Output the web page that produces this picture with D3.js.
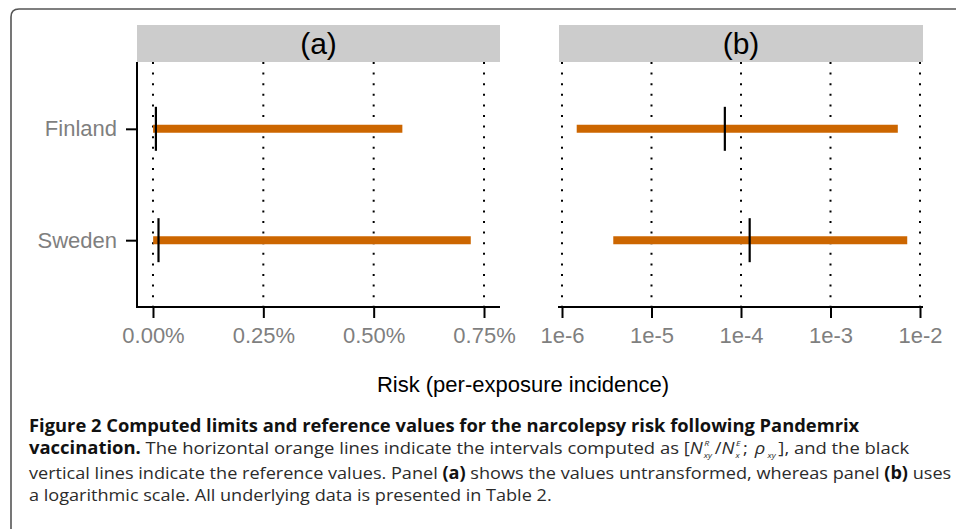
<!DOCTYPE html>
<html>
<head>
<meta charset="utf-8">
<script src="https://cdn.jsdelivr.net/npm/d3@7"></script>
<style>
  html, body { margin: 0; padding: 0; background: #fff; }
  svg { display: block; }
</style>
</head>
<body>
<svg id="chart" width="956" height="529"></svg>
<script>
// Narcolepsy risk intervals and reference values per country
const categories = ["Finland", "Sweden"];
const lowerLimits = [1.46e-6, 3.74e-6];
const upperLimits = [5.65e-3, 7.2e-3];
const referenceValues = [6.6e-5, 1.25e-4];

const panelTitles = ["(a)", "(b)"];
const linearTicks = [0, 0.0025, 0.005, 0.0075];
const linearTickLabels = ["0.00%", "0.25%", "0.50%", "0.75%"];
const logTicks = [1e-6, 1e-5, 1e-4, 1e-3, 1e-2];
const logTickLabels = ["1e-6", "1e-5", "1e-4", "1e-3", "1e-2"];
const axisTitle = "Risk (per-exposure incidence)";

const rows = categories.map((c, i) => ({
  country: c, lo: lowerLimits[i], hi: upperLimits[i], ref: referenceValues[i]
}));

const PLOT_FONT = "'Liberation Sans', Arial, Helvetica, sans-serif";
const CAP_FONT = "'Open Sans', 'Noto Sans', sans-serif";
const ORANGE = "#cc6600";
const GREY_TEXT = "#7f7f7f";

const svg = d3.select("#chart");

// Rounded figure frame (top and left edges)
svg.append("path")
  .attr("d", "M11,529 L11,17 Q11,9 19,9 L956,9")
  .attr("fill", "none")
  .attr("stroke", "#555")
  .attr("stroke-width", 1.6);

const plotTop = 62, plotBottom = 307;
const y = d3.scalePoint().domain(categories).range([plotTop, plotBottom]).padding(0.6);

// Linear limits [0, 0.75%] and log limits [1e-6, 1e-2], each with a small expansion
const linLim = [0, 0.0075], linExp = 0.0483 * (linLim[1] - linLim[0]);
const logLim = [-6, -2], logExp = 0.0335;

const panels = [
  {
    title: panelTitles[0], x0: 137, x1: 500,
    scale: d3.scaleLinear().domain([linLim[0] - linExp, linLim[1] + linExp]).range([137, 500]),
    ticks: linearTicks, labels: linearTickLabels, yAxis: true
  },
  {
    title: panelTitles[1], x0: 559, x1: 923,
    scale: d3.scaleLog().domain([Math.pow(10, logLim[0] - logExp), Math.pow(10, logLim[1] + logExp)]).range([559, 923]),
    ticks: logTicks, labels: logTickLabels, yAxis: false
  }
];

panels.forEach(p => {
  const g = svg.append("g");
  const x = p.scale;

  // facet strip
  g.append("rect")
    .attr("x", p.x0).attr("y", 25)
    .attr("width", p.x1 - p.x0).attr("height", plotTop - 25)
    .attr("fill", "#cccccc");
  g.append("text")
    .attr("x", (p.x0 + p.x1) / 2).attr("y", 53.5)
    .attr("text-anchor", "middle")
    .attr("font-family", PLOT_FONT).attr("font-size", 30)
    .attr("fill", "#000")
    .text(p.title);

  // dotted vertical grid at major ticks
  g.selectAll("line.grid").data(p.ticks).join("line")
    .attr("class", "grid")
    .attr("x1", d => x(d)).attr("x2", d => x(d))
    .attr("y1", plotTop).attr("y2", plotBottom)
    .attr("stroke", "#000").attr("stroke-width", 2)
    .attr("stroke-dasharray", "2,8.6");

  // interval bars
  g.selectAll("line.bar").data(rows).join("line")
    .attr("class", "bar")
    .attr("x1", d => x(d.lo)).attr("x2", d => x(d.hi))
    .attr("y1", d => y(d.country)).attr("y2", d => y(d.country))
    .attr("stroke", ORANGE).attr("stroke-width", 8);

  // reference values
  g.selectAll("line.ref").data(rows).join("line")
    .attr("class", "ref")
    .attr("x1", d => x(d.ref)).attr("x2", d => x(d.ref))
    .attr("y1", d => y(d.country) - 22).attr("y2", d => y(d.country) + 22)
    .attr("stroke", "#000").attr("stroke-width", 2.2);

  // x axis
  const ax = g.append("g").attr("transform", `translate(0,${plotBottom})`)
    .call(d3.axisBottom(x).tickValues(p.ticks)
      .tickFormat((d, i) => p.labels[i]).tickSize(11).tickPadding(9.5));
  ax.select(".domain").remove();
  ax.selectAll(".tick line").attr("stroke", "#000").attr("stroke-width", 2);
  ax.selectAll(".tick text")
    .attr("font-family", PLOT_FONT).attr("font-size", 22).attr("fill", GREY_TEXT);
  g.append("line")
    .attr("x1", p.x0 - 1).attr("x2", p.x1)
    .attr("y1", plotBottom).attr("y2", plotBottom)
    .attr("stroke", "#000").attr("stroke-width", 2);

  if (p.yAxis) {
    const ay = g.append("g").attr("transform", `translate(${p.x0},0)`)
      .call(d3.axisLeft(y).tickSize(11).tickPadding(9));
    ay.select(".domain").remove();
    ay.selectAll(".tick line").attr("stroke", "#000").attr("stroke-width", 2);
    ay.selectAll(".tick text")
      .attr("font-family", PLOT_FONT).attr("font-size", 22).attr("fill", GREY_TEXT);
    g.append("line")
      .attr("x1", p.x0).attr("x2", p.x0)
      .attr("y1", plotTop).attr("y2", plotBottom + 1)
      .attr("stroke", "#000").attr("stroke-width", 2);
  }
});

// shared axis title
svg.append("text")
  .attr("x", 523).attr("y", 392)
  .attr("text-anchor", "middle")
  .attr("font-family", PLOT_FONT).attr("font-size", 22)
  .attr("fill", "#000")
  .text(axisTitle);

// Figure caption, each line fitted to its set width
function captionLine(parts, x, baseline, width) {
  const g = svg.append("g");
  const t = g.append("text")
    .attr("font-family", CAP_FONT).attr("font-size", 17).attr("fill", "#2b2b2b");
  parts.forEach(p => {
    const s = t.append("tspan").text(p.t);
    if (p.b) s.attr("font-weight", "bold").attr("fill", "#111");
    if (p.i) s.attr("font-style", "italic");
    if (p.fs) s.attr("font-size", p.fs);
    if (p.dx != null) s.attr("dx", p.dx);
    if (p.dy != null) s.attr("dy", p.dy);
  });
  const bb = t.node().getBBox();
  const k = width / bb.width;
  g.attr("transform", `translate(${x - bb.x * k},${baseline}) scale(${k},1)`);
}

const capX = 29;
captionLine([
  { t: "Figure 2 Computed limits and reference values for the narcolepsy risk following Pandemrix", b: true }
], capX, 432, 831);

// N^R_xy / N^E_x ; rho_xy with stacked super- and subscripts
captionLine([
  { t: "vaccination.", b: true },
  { t: " The horizontal orange lines indicate the intervals computed as [" },
  { t: "N", i: true },
  { t: "R", i: true, fs: 8, dx: 1.5, dy: -8 },
  { t: "xy", i: true, fs: 8, dx: -5, dy: 11.5 },
  { t: "/", dx: 2.5, dy: -3.5 },
  { t: "N", i: true },
  { t: "E", i: true, fs: 8, dx: 1.5, dy: -8 },
  { t: "x", i: true, fs: 8, dx: -4.6, dy: 11.5 },
  { t: "; ", dx: 3, dy: -3.5 },
  { t: "ρ", i: true, dx: 2 },
  { t: "xy", i: true, fs: 8, dx: 2, dy: 3.5 },
  { t: "], and the black", dx: 2.5, dy: -3.5 }
], capX, 454, 881);

captionLine([
  { t: "vertical lines indicate the reference values. Panel " },
  { t: "(a)", b: true },
  { t: " shows the values untransformed, whereas panel " },
  { t: "(b)", b: true },
  { t: " uses" }
], capX, 478.5, 923);

captionLine([
  { t: "a logarithmic scale. All underlying data is presented in Table 2." }
], capX, 500.5, 523);
</script>
</body>
</html>
